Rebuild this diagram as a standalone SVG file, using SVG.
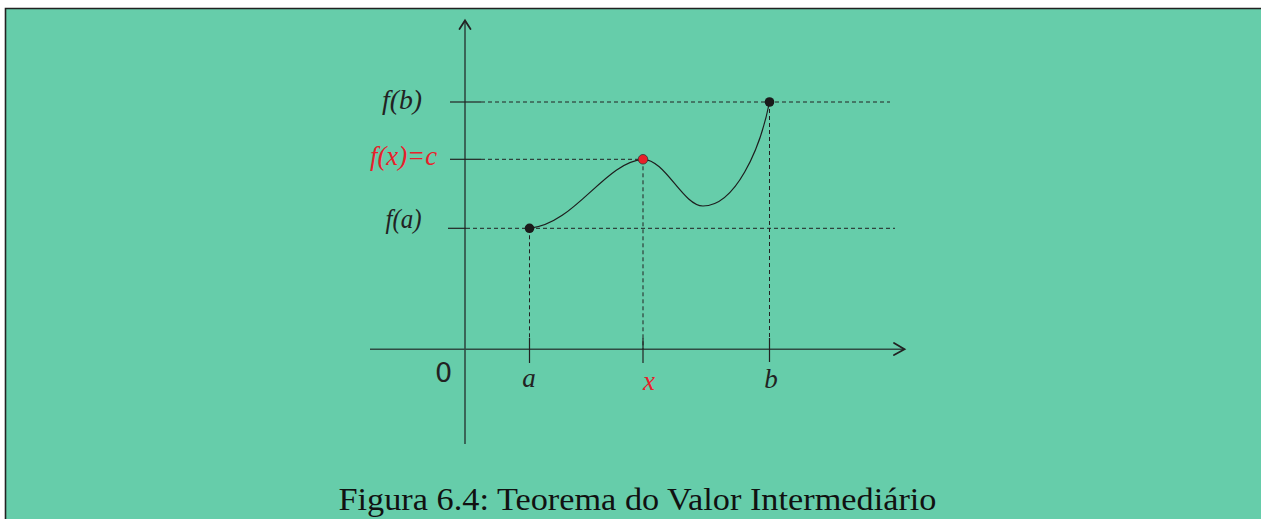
<svg xmlns="http://www.w3.org/2000/svg" width="1261" height="519" viewBox="0 0 1261 519">
<style>
.axis{stroke:#2f4b43;stroke-width:1.6;fill:none}
.arrow{stroke:#222;stroke-width:1.8;fill:none;stroke-linecap:round;stroke-linejoin:miter}
.tick{stroke:#222;stroke-width:1.2;fill:none}
.dash{stroke:#222;stroke-width:1;fill:none;stroke-dasharray:4 3}
.curve{stroke:#1e1e1e;stroke-width:1.2;fill:none}
.lbl{font-family:"Liberation Serif","Times New Roman",serif;font-style:italic;font-size:27px;fill:#222}
.red{fill:#e8202a}
.cap{font-family:"Liberation Serif","Times New Roman",serif;font-size:31px;fill:#111}
</style>
<rect x="0" y="0" width="1261" height="519" fill="#ffffff"/>
<rect x="6" y="8" width="1255" height="511" fill="#66CDAA"/>
<path d="M5.5,519 V8.5 H1261" stroke="#222" stroke-width="1.6" fill="none"/>

<g id="axes">
<line class="axis" x1="465" y1="21" x2="465" y2="444"/>
<line class="axis" x1="370" y1="349.3" x2="904" y2="349.3"/>
<polyline class="arrow" points="459.5,29 465,20.5 470.5,29"/>
<polyline class="arrow" points="894,343 904.5,349.3 894,355"/>
</g>

<g id="connectors">
<line class="tick" x1="450" y1="102" x2="481" y2="102"/>
<line class="dash" x1="481" y1="102" x2="890" y2="102"/>
<line class="tick" x1="450" y1="159.3" x2="481" y2="159.3"/>
<line class="dash" x1="481" y1="159.3" x2="643" y2="159.3"/>
<line class="tick" x1="448" y1="228.3" x2="466" y2="228.3"/>
<line class="dash" x1="466" y1="228.3" x2="895" y2="228.3"/>
<line class="dash" x1="529.5" y1="228.3" x2="529.5" y2="349"/>
<line class="dash" x1="643" y1="159.3" x2="643" y2="349"/>
<line class="dash" x1="769.5" y1="102" x2="769.5" y2="349"/>
<line class="tick" x1="529.5" y1="338" x2="529.5" y2="363"/>
<line class="tick" x1="643" y1="338" x2="643" y2="363"/>
<line class="tick" x1="769.5" y1="338" x2="769.5" y2="362"/>
</g>

<g id="curve">
<path class="curve" d="M529.5,228.3 C575,224 605,162 643,159.3 C665,159 683,206 703,206 C735,206 760,150 769.5,102"/>
</g>

<g id="point-a"><circle cx="529.5" cy="228.3" r="4.8" fill="#1a1a1a"/></g>
<g id="point-x"><circle cx="643" cy="159.3" r="4.8" fill="#e8202a" stroke="#333" stroke-width="0.8"/></g>
<g id="point-b"><circle cx="769.5" cy="102" r="4.8" fill="#1a1a1a"/></g>

<g id="labels">
<text class="lbl" x="382" y="109" textLength="40" lengthAdjust="spacingAndGlyphs">f(b)</text>
<text class="lbl red" x="370" y="165" textLength="67" lengthAdjust="spacingAndGlyphs">f(x)=c</text>
<text class="lbl" x="385.5" y="228" textLength="36" lengthAdjust="spacingAndGlyphs">f(a)</text>
<text x="443.5" y="382" text-anchor="middle" font-family="'DejaVu Sans',sans-serif" font-size="27" fill="#222">0</text>
<text class="lbl" x="529" y="386.5" text-anchor="middle">a</text>
<text class="lbl red" x="649" y="389.5" text-anchor="middle">x</text>
<text class="lbl" x="771" y="388" text-anchor="middle">b</text>
</g>

<g id="caption">
<text class="cap" x="338.5" y="510" textLength="598" lengthAdjust="spacingAndGlyphs">Figura 6.4: Teorema do Valor Intermediário</text>
</g>
</svg>
